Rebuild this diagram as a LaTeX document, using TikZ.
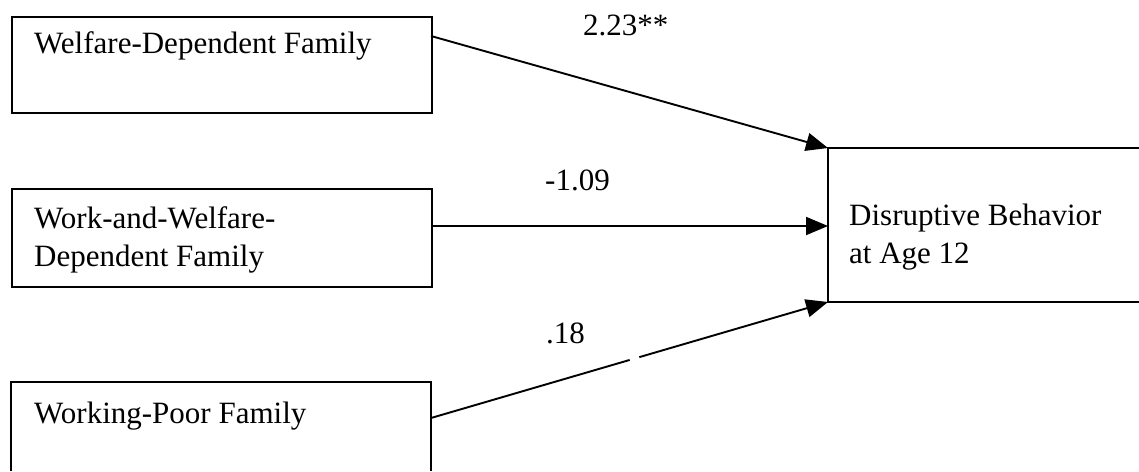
\documentclass[tikz,border=0pt]{standalone}
\usepackage{fontspec}
\setmainfont{Liberation Serif}
\usetikzlibrary{arrows.meta}
\begin{document}
\begin{tikzpicture}[x=1pt,y=-1pt,
  boxline/.style={line width=1.9pt},
  conn/.style={line width=1.9pt,-{Triangle[length=22pt,width=18pt]}},
  lbl/.style={anchor=base west,inner sep=0pt,font=\fontsize{31}{38}\selectfont},
  coef/.style={anchor=base west,inner sep=0pt,font=\fontsize{31}{38}\selectfont}]
\useasboundingbox (0,0) rectangle (1139,471);
% source boxes
\node[boxline,draw,rectangle,minimum width=420pt,minimum height=96pt,inner sep=0pt,anchor=north west] (wd) at (11,16) {};
\node[boxline,draw,rectangle,minimum width=420pt,minimum height=98pt,inner sep=0pt,anchor=north west] (ww) at (11,188) {};
\draw[boxline] (11,471) -- (11,382) -- (431,382) -- (431,471);
\node[lbl] (wdt) at (34,53) {Welfare-Dependent Family};
\node[lbl] (wwt1) at (34,228) {Work-and-Welfare-};
\node[lbl] (wwt2) at (34,266) {Dependent Family};
\node[lbl] (wpt) at (34,423) {Working-Poor Family};
% target box (open at right)
\draw[boxline] (1139,148) -- (828,148) -- (828,302) -- (1139,302);
\node[lbl] (dbt1) at (849,225) {Disruptive Behavior};
\node[lbl] (dbt2) at (849,263) {at Age 12};
% connector ends
\coordinate (s1) at (431,36);
\coordinate (s2) at (431,226);
\coordinate (s3) at (431,418);
\coordinate (t1) at (828,148);
\coordinate (t2) at (828,226);
\coordinate (t3) at (828,302);
\draw[conn] (s1) -- (t1);
\draw[conn] (s2) -- (t2);
\draw[conn,dash pattern=on 207pt off 10pt on 500pt] (s3) -- (t3);
% coefficients
\node[coef] (c1) at (583,35) {2.23**};
\node[coef] (c2) at (545,190) {-1.09};
\node[coef] (c3) at (546,343) {.18};
\end{tikzpicture}
\end{document}
